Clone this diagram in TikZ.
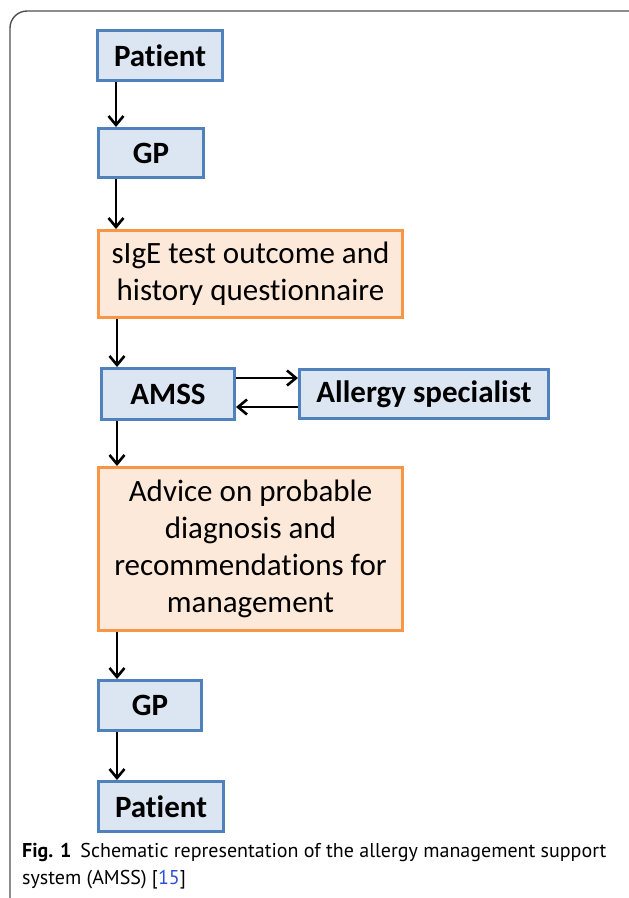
\documentclass[tikz,border=0pt]{standalone}
\usepackage{fontspec}
\setmainfont{Carlito}[Ligatures=NoCommon]
\newfontfamily\capfont{PT Sans}
\usetikzlibrary{arrows.meta}
\definecolor{bluefill}{HTML}{DCE6F2}
\definecolor{blueline}{HTML}{4F81BD}
\definecolor{orangefill}{HTML}{FDE9D9}
\definecolor{orangeline}{HTML}{F79646}
\definecolor{framegray}{HTML}{505050}
\definecolor{linkblue}{HTML}{2B4FD8}
\tikzset{
  px/.style={x=1pt,y=-1pt},
  bluebox/.style={draw=blueline,fill=bluefill,line width=3pt,font=\fontsize{31}{36}\selectfont\bfseries,inner sep=0pt,align=center},
  orangebox/.style={draw=orangeline,fill=orangefill,line width=3pt,font=\fontsize{31}{37}\selectfont,inner sep=0pt,align=center},
  flow/.style={-{Straight Barb[length=9pt,width=15pt,line width=2.6pt]},line width=2.8pt,black},
}
\begin{document}
\begin{tikzpicture}[px]
\useasboundingbox (0,0) rectangle (629,898);
% frame
\draw[framegray,line width=1.4pt] (10,898) -- (10,28) arc[start angle=180,end angle=270,radius=17] -- (629,11);
% boxes (given by corners)
\node[bluebox,minimum width=125pt,minimum height=50pt,anchor=north west] (p1) at (96,29) {Patient};
\node[bluebox,minimum width=105pt,minimum height=49pt,anchor=north west] (gp1) at (97,127) {GP};
\node[orangebox,minimum width=304pt,minimum height=87pt,anchor=north west] (sige) at (97,229) {sIgE test outcome and\\history questionnaire};
\node[bluebox,minimum width=133pt,minimum height=51pt,anchor=north west] (amss) at (100,367) {AMSS};
\node[bluebox,minimum width=249pt,minimum height=49pt,anchor=north west] (spec) at (298,368) {Allergy specialist};
\node[orangebox,minimum width=304pt,minimum height=163pt,anchor=north west] (adv) at (97,466) {Advice on probable\\diagnosis and\\recommendations for\\management};
\node[bluebox,minimum width=103pt,minimum height=50pt,anchor=north west] (gp2) at (97,679) {GP};
\node[bluebox,minimum width=125pt,minimum height=50pt,anchor=north west] (p2) at (97,780) {Patient};
% connectors
\draw[flow] (p1.south -| 116,0) -- (gp1.north -| 116,0);
\draw[flow] (gp1.south -| 116,0) -- (sige.north -| 116,0);
\draw[flow] (sige.south -| 117,0) -- (amss.north -| 117,0);
\draw[flow] (amss.south -| 117,0) -- (adv.north -| 117,0);
\draw[flow] (adv.south -| 117,0) -- (gp2.north -| 117,0);
\draw[flow] (gp2.south -| 117,0) -- (p2.north -| 117,0);
\draw[flow] (amss.east |- 0,378) -- (spec.west |- 0,378);
\draw[flow] (spec.west |- 0,407) -- (amss.east |- 0,407);
% caption
\node[anchor=base west,inner sep=0pt,font=\capfont\fontsize{20}{24}\selectfont] (cap1) at (22,857) {\textbf{Fig. 1}\hspace{9pt}Schematic representation of the allergy management support};
\node[anchor=base west,inner sep=0pt,font=\capfont\fontsize{20}{24}\selectfont] (cap2) at (22,884) {system (AMSS) [\textcolor{linkblue}{15}]};
\end{tikzpicture}
\end{document}
